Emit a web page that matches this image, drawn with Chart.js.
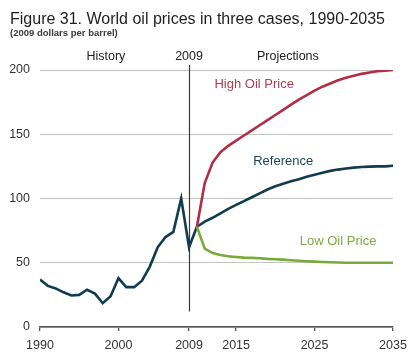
<!DOCTYPE html>
<html>
<head>
<meta charset="utf-8">
<script src="https://cdn.jsdelivr.net/npm/chart.js@4"></script>
<style>
body { margin: 0; background: #fff; }
#wrap { width: 415px; height: 361px; position: relative; }
</style>
</head>
<body>
<div id="wrap"><canvas id="myChart"></canvas></div>
<script>
var histYears = [1990, 1991, 1992, 1993, 1994, 1995, 1996, 1997, 1998, 1999, 2000,
	2001, 2002, 2003, 2004, 2005, 2006, 2007, 2008, 2009, 2010];
var histPrices = [37, 32, 30, 27, 24.5, 25, 29, 26, 18.5, 24, 38,
	31, 31, 36, 47, 62, 70, 74, 100, 62, 78];

var projYears = [2010, 2011, 2012, 2013, 2014, 2015, 2016, 2017, 2018, 2019, 2020, 2021, 2022,
	2023, 2024, 2025, 2026, 2027, 2028, 2029, 2030, 2031, 2032, 2033, 2034, 2035];
var refPrices = [78, 82, 85, 88.5, 92, 95, 98, 101, 104, 107, 109.5, 111.5, 113.5,
	115, 117, 118.5, 120, 121.5, 122.5, 123.3, 124, 124.5, 124.8, 125, 125, 125.5];
var highPrices = [78, 112, 128, 136, 141, 145, 149, 153, 157, 161, 165, 169, 173,
	177, 180.5, 184, 187, 189.5, 192, 194, 195.5, 197, 198, 199, 199.5, 200];
var lowPrices = [78, 61, 57.5, 56, 55, 54.5, 54, 53.8, 53.5, 53, 52.7, 52.4, 52,
	51.6, 51.2, 50.9, 50.6, 50.4, 50.2, 50, 50, 50, 50, 50, 50, 50];

var xTicks = [1990, 2000, 2009, 2015, 2025, 2035];

var navy = '#123a50';
var red = '#b02f43';
var green = '#78ab38';
var fontName = "'Liberation Sans', Arial, sans-serif";

function pairs(xs, ys) {
	return xs.map(function (x, i) { return { x: x, y: ys[i] }; });
}

var textPlugin = {
	id: 'texts',
	beforeDatasetsDraw: function (chart) {
		var ctx = chart.ctx;
		var x = chart.scales.x;
		var y = chart.scales.y;
		var x09 = Math.round(x.getPixelForValue(2009)) + 0.5;
		ctx.save();
		ctx.strokeStyle = '#3a3a3a';
		ctx.lineWidth = 1.2;
		ctx.beginPath();
		ctx.moveTo(x09, chart.chartArea.top - 5);
		ctx.lineTo(x09, y.getPixelForValue(12));
		ctx.stroke();
		ctx.restore();
	},
	afterDraw: function (chart) {
		var ctx = chart.ctx;
		var x = chart.scales.x;
		var y = chart.scales.y;
		ctx.save();
		ctx.textBaseline = 'alphabetic';
		ctx.textAlign = 'left';
		ctx.fillStyle = '#1e1e1e';
		ctx.font = '16px ' + fontName;
		ctx.fillText('Figure 31. World oil prices in three cases, 1990-2035', 10, 24);
		ctx.fillStyle = '#3a3a3a';
		ctx.font = 'bold 9.5px ' + fontName;
		ctx.fillText('(2009 dollars per barrel)', 10, 35.5);

		ctx.textAlign = 'center';
		ctx.font = '12.5px ' + fontName;
		ctx.fillStyle = '#222';
		ctx.fillText('History', x.getPixelForValue(1998.4), 60);
		ctx.fillText('2009', x.getPixelForValue(2009), 60);
		ctx.fillText('Projections', x.getPixelForValue(2021.6), 60);

		ctx.font = '13px ' + fontName;
		ctx.fillStyle = '#b23f51';
		ctx.fillText('High Oil Price', x.getPixelForValue(2017.3), y.getPixelForValue(186));
		ctx.fillStyle = '#1c4559';
		ctx.fillText('Reference', x.getPixelForValue(2021), y.getPixelForValue(126));
		ctx.fillStyle = '#7aab45';
		ctx.fillText('Low Oil Price', x.getPixelForValue(2028), y.getPixelForValue(64));
		ctx.restore();
	}
};

var chart1 = new Chart(document.getElementById('myChart').getContext('2d'), {
	type: 'line',
	data: {
		datasets: [
			{ label: 'Low Oil Price', data: pairs(projYears, lowPrices), borderColor: green },
			{ label: 'High Oil Price', data: pairs(projYears, highPrices), borderColor: red },
			{ label: 'Reference', data: pairs(projYears, refPrices), borderColor: navy },
			{ label: 'History', data: pairs(histYears, histPrices), borderColor: navy }
		]
	},
	options: {
		responsive: true,
		maintainAspectRatio: false,
		animation: false,
		layout: { padding: { top: 70, right: 22, left: 0, bottom: 0 } },
		elements: {
			point: { radius: 0 },
			line: { borderWidth: 2.6, tension: 0, fill: false }
		},
		plugins: {
			legend: { display: false },
			tooltip: { enabled: false }
		},
		scales: {
			x: {
				type: 'linear',
				min: 1990,
				max: 2035,
				afterBuildTicks: function (scale) {
					scale.ticks = xTicks.map(function (v) { return { value: v }; });
				},
				afterFit: function (scale) { scale.height = 34; },
				grid: { drawOnChartArea: false, drawTicks: true, tickLength: 4, color: '#555', lineWidth: 1.3 },
				border: { display: true, color: '#555', width: 1.5 },
				ticks: {
					autoSkip: false,
					maxRotation: 0,
					padding: 7,
					color: '#333',
					font: { family: fontName, size: 12.5 },
					callback: function (v) { return String(v); }
				}
			},
			y: {
				min: 0,
				max: 200,
				afterFit: function (scale) { scale.width = 40; },
				grid: { drawTicks: false, color: '#c4c4c4', lineWidth: 1 },
				border: { display: false },
				ticks: {
					stepSize: 50,
					padding: 10,
					color: '#333',
					font: { family: fontName, size: 12.5 }
				}
			}
		}
	},
	plugins: [textPlugin]
});
</script>
</body>
</html>
